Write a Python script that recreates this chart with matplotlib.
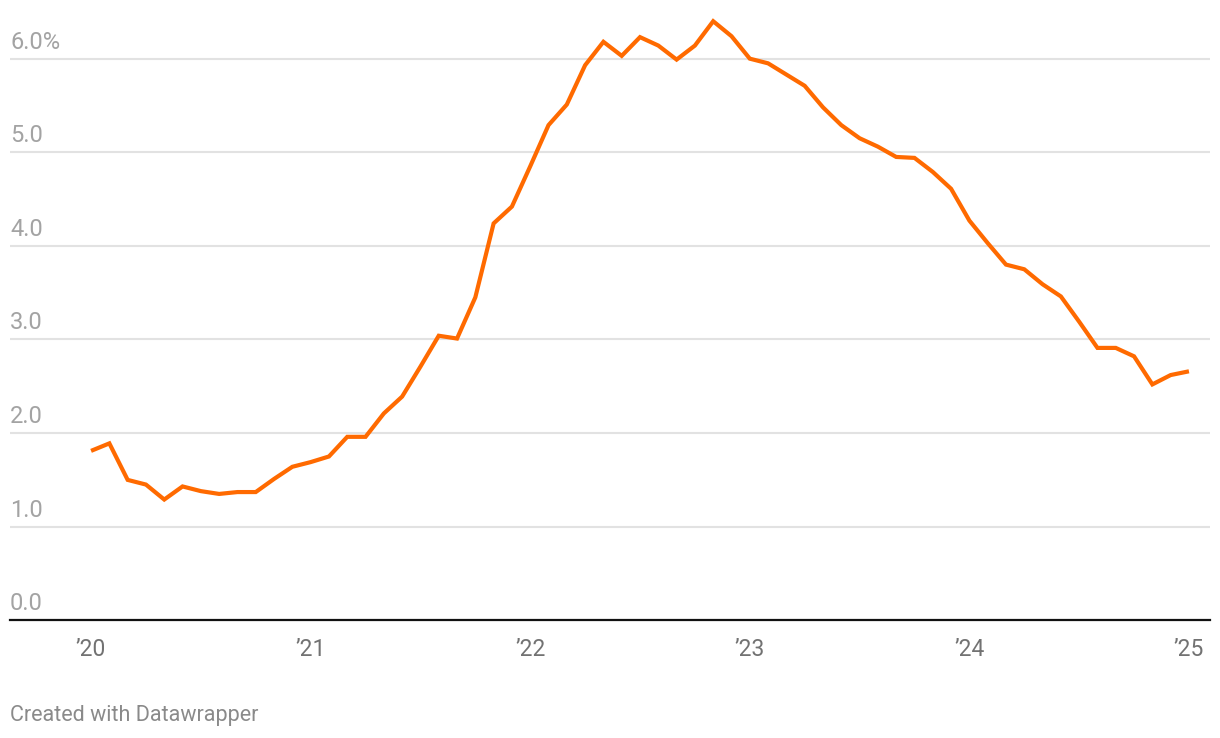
import matplotlib
matplotlib.use("Agg")
import matplotlib.pyplot as plt

plt.rcParams['font.family'] = ['Roboto', 'DejaVu Sans']

# Monthly values, Jan 2020 .. Jan 2025 (percent)
values = [
    1.81, 1.89, 1.50, 1.45, 1.29, 1.43, 1.38, 1.35, 1.37, 1.37, 1.51, 1.64,   # 2020
    1.69, 1.75, 1.96, 1.96, 2.21, 2.39, 2.71, 3.04, 3.01, 3.45, 4.24, 4.42,   # 2021
    4.85, 5.29, 5.51, 5.93, 6.18, 6.03, 6.23, 6.14, 5.99, 6.14, 6.40, 6.24,   # 2022
    6.00, 5.95, 5.83, 5.71, 5.48, 5.29, 5.15, 5.06, 4.95, 4.94, 4.79, 4.61,   # 2023
    4.27, 4.03, 3.80, 3.75, 3.59, 3.46, 3.19, 2.91, 2.91, 2.82, 2.52, 2.62,   # 2024
    2.66,                                                                     # 2025
]
x_tick_labels = ["\u201920", "\u201921", "\u201922", "\u201923", "\u201924", "\u201925"]
y_ticks = [0, 1, 2, 3, 4, 5, 6]
y_tick_labels = ["0.0", "1.0", "2.0", "3.0", "4.0", "5.0", "6.0%"]
footer = "Created with Datawrapper"

W, H = 1220, 738
fig = plt.figure(figsize=(W / 100, H / 100), dpi=100)
ax_left, ax_right = 10 / W, 1210 / W
ax_bottom = 1 - 620.3 / H
ax_top = 1 - 2.5 / H
ax = fig.add_axes([ax_left, ax_bottom, ax_right - ax_left, ax_top - ax_bottom])

months = list(range(len(values)))
ax.plot(months, values, color="#ff6a00", lw=3.0, solid_joinstyle="miter",
        solid_capstyle="butt", zorder=3)

ax.set_xlim(-4.43, 61.15)
ax.set_ylim(0, 6.6)

for s in ax.spines.values():
    s.set_visible(False)
ax.set_yticks([])
ax.set_xticks([])

for yv, lab in zip(y_ticks, y_tick_labels):
    if yv > 0:
        ax.axhline(yv, color="#e2e2e2", lw=1.5, zorder=1)
    ax.annotate(lab, xy=(0, yv), xycoords=("axes fraction", "data"),
                xytext=(0, 5), textcoords="offset pixels",
                ha="left", va="bottom", fontsize=17, color="#a3a3a3")

ax.axhline(0, color="#111111", lw=1.6, zorder=4, clip_on=False)

for k, lab in enumerate(x_tick_labels):
    ax.annotate(lab, xy=(k * 12, 0), xycoords="data",
                xytext=(0, -18), textcoords="offset pixels",
                ha="center", va="top", fontsize=16.5, color="#727272")

fig.text(10 / W, 1 - 715 / H, footer, ha="left", va="center",
         fontsize=15.5, color="#8a8a8a")

fig.savefig("out.png", dpi=100, facecolor="white")
